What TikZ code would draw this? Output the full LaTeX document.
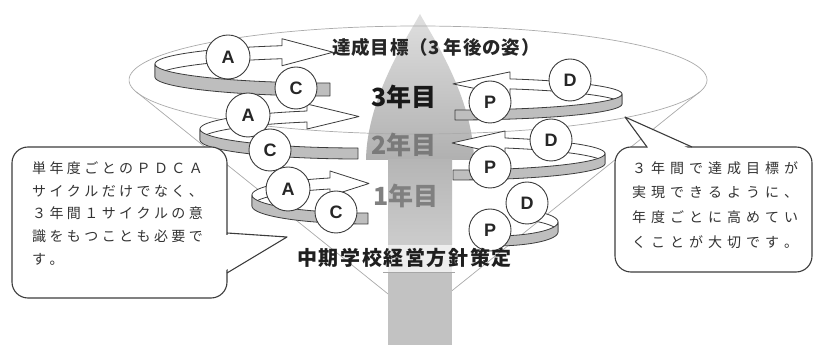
\documentclass[tikz,border=0pt]{standalone}
\usepackage{fontspec}
\newfontfamily\jp{Noto Sans CJK JP}
\newfontfamily\latinf{Liberation Sans}
\definecolor{inkc}{HTML}{3C3C3C}
\definecolor{bandc}{HTML}{BEBEBE}
\definecolor{funnelc}{HTML}{ABABAB}
\definecolor{textc}{HTML}{333333}

% fixed-pitch setting of a string of characters
\newlength{\cpitch}
\def\pitched#1{\pitchedi#1\relax}
\def\pitchedi#1{\ifx#1\relax\else\makebox[\cpitch][l]{#1}\expandafter\pitchedi\fi}

% left half of a yearly loop: cx cy rx ry h xhead xtip
\newcommand{\ribbonL}[7]{%
 \pgfmathsetmacro{\rbth}{360-acos((#6-#1)/#3)}%
 \pgfmathsetmacro{\rbT}{#2+#4*sin(\rbth)}%
 \pgfmathsetmacro{\rbB}{\rbT+#5}%
 \pgfmathsetmacro{\rbM}{(\rbT+\rbB)/2}%
 \filldraw[ribbonback] plot[domain=180:\rbth,samples=40] ({#1+#3*cos(\x)},{#2+#4*sin(\x)}) -- (#6,\rbT-7) -- (#7,\rbM) -- (#6,\rbB+7) -- plot[domain=\rbth:180,samples=40] ({#1+#3*cos(\x)},{#2+#5+#4*sin(\x)}) -- cycle;
 \filldraw[ribbonfront] plot[domain=90:180,samples=40] ({#1+#3*cos(\x)},{#2+#4*sin(\x)}) -- plot[domain=180:90,samples=40] ({#1+#3*cos(\x)},{#2+#5+#4*sin(\x)}) -- cycle;
}
% right half of a yearly loop: cx cy rx ry h xhead xtip
\newcommand{\ribbonR}[7]{%
 \pgfmathsetmacro{\rbth}{-acos((#6-#1)/#3)}%
 \pgfmathsetmacro{\rbT}{#2+#4*sin(\rbth)}%
 \pgfmathsetmacro{\rbB}{\rbT+#5}%
 \pgfmathsetmacro{\rbM}{(\rbT+\rbB)/2}%
 \filldraw[ribbonback] plot[domain=0:\rbth,samples=40] ({#1+#3*cos(\x)},{#2+#4*sin(\x)}) -- (#6,\rbT-7) -- (#7,\rbM) -- (#6,\rbB+7) -- plot[domain=\rbth:0,samples=40] ({#1+#3*cos(\x)},{#2+#5+#4*sin(\x)}) -- cycle;
 \filldraw[ribbonfront] plot[domain=90:0,samples=40] ({#1+#3*cos(\x)},{#2+#4*sin(\x)}) -- plot[domain=0:90,samples=40] ({#1+#3*cos(\x)},{#2+#5+#4*sin(\x)}) -- cycle;
}
% right half without visible head: cx cy rx ry h endangle
\newcommand{\ribbonRplain}[6]{%
 \filldraw[ribbonback] plot[domain=0:#6,samples=30] ({#1+#3*cos(\x)},{#2+#4*sin(\x)}) -- plot[domain=#6:0,samples=30] ({#1+#3*cos(\x)},{#2+#5+#4*sin(\x)}) -- cycle;
 \filldraw[ribbonfront] plot[domain=90:0,samples=40] ({#1+#3*cos(\x)},{#2+#4*sin(\x)}) -- plot[domain=0:90,samples=40] ({#1+#3*cos(\x)},{#2+#5+#4*sin(\x)}) -- cycle;
}

\begin{document}
\begin{tikzpicture}[x=1pt,y=-1pt,
 ribbonback/.style={fill=white,draw=inkc,line width=0.8pt,line join=round},
 ribbonfront/.style={fill=bandc,draw=inkc,line width=0.8pt,line join=round},
 pdca/.style={circle,draw=inkc,fill=white,line width=0.9pt,minimum size=42pt,inner sep=0pt,font=\latinf\bfseries\fontsize{18}{18}\selectfont,text=black!85},
 yearlab/.style={font=\jp\bfseries\fontsize{25}{25}\selectfont,inner sep=0pt},
 callout/.style={draw=inkc,fill=white,line width=1.1pt},
 calloutedge/.style={draw=inkc,line width=1.1pt,line join=round},
 funnelline/.style={draw=funnelc,line width=0.7pt},
 lefttext/.style={anchor=base west,inner sep=0pt,text=textc,font=\jp\fontsize{14}{14}\selectfont\setlength{\cpitch}{17.4pt}},
 righttext/.style={anchor=base west,inner sep=0pt,text=textc,font=\jp\fontsize{14}{14}\selectfont\setlength{\cpitch}{19pt}}
]
\useasboundingbox (0,0) rectangle (835,352);
\fill[white] (0,0) rectangle (835,352);

% funnel sides
\draw[funnelline] (136.5,92) -- (418,318);
\draw[funnelline] (699.5,92) -- (418,318);

% central upward arrow
\shade[top color=gray!25, middle color=gray!76, bottom color=gray!62]
  (420,14) .. controls (430,33) and (473,96) .. (474,160) -- (366,160) .. controls (367,96) and (410,33) .. (420,14) -- cycle;
\shade[top color=gray!58, bottom color=gray!40] (388,159.5) rectangle (452,245);
\fill[gray!14] (388,245) rectangle (452,272);
\fill[gray!48] (388,272) rectangle (452,345);
\draw[gray!70,line width=0.8pt] (383,272) -- (455,272);

% funnel rim
\draw[funnelline] plot[domain=0:360,samples=120,smooth] ({418+289*cos(\x)},{80+54*sin(\x)});

% yearly loops
\ribbonL{330}{64}{175}{19}{13}{282}{333}
\ribbonR{455}{94}{167}{16}{10}{510}{453}
\ribbonL{358}{129}{158}{19}{11}{307}{359}
\ribbonR{453}{153.5}{152}{16.5}{10}{505}{452}
\ribbonL{368}{195}{116}{18}{11}{330}{369}
\ribbonRplain{495}{222}{63}{14}{10}{-60}

% PDCA circles
\node[pdca,minimum size=44pt] (A3) at (228,57) {A};
\node[pdca] (D3) at (570,80) {D};
\node[pdca] (C3) at (296,88) {C};
\node[pdca] (P3) at (490,102) {P};
\node[pdca,minimum size=44pt] (A2) at (248,115) {A};
\node[pdca] (D2) at (551,140) {D};
\node[pdca] (C2) at (270,150) {C};
\node[pdca] (P2) at (490,167) {P};
\node[pdca,minimum size=44pt] (A1) at (288,189) {A};
\node[pdca] (D1) at (527,203) {D};
\node[pdca] (C1) at (336,212) {C};
\node[pdca] (P1) at (490,230) {P};

% labels
\node[font=\jp\bfseries\fontsize{18.5}{18.5}\selectfont\setlength{\cpitch}{19.3pt},text=black!85,anchor=base west,inner sep=0pt] (goal) at (332,55) {\pitched{達成目標（}3\hspace{4pt}\pitched{年後の姿）}};
\node[yearlab,text=black!90] (year3) at (404,97) {3年目};
\node[yearlab,text=black!52] (year2) at (404,145) {2年目};
\node[yearlab,text=black!50] (year1) at (406,196) {1年目};
\node[font=\jp\bfseries\fontsize{20}{20}\selectfont\setlength{\cpitch}{21.6pt},text=black!88,anchor=base west,inner sep=0pt] (policy) at (297,266) {\pitched{中期学校経営方針策定}};

% left callout
\draw[callout,rounded corners=16] (12,147) rectangle (227,298);
\fill[white] (224,235) -- (287,237) -- (224,271) -- cycle;
\draw[calloutedge] (227,233) -- (287,237) -- (227,273);
\node[lefttext] (L1) at (32,173.3) {\pitched{単年度ごとのＰＤＣＡ}};
\node[lefttext] (L2) at (32,196.1) {\pitched{サイクルだけでなく、}};
\node[lefttext] (L3) at (32,218.9) {\pitched{３年間１サイクルの意}};
\node[lefttext] (L4) at (32,241.7) {\pitched{識をもつことも必要で}};
\node[lefttext] (L5) at (32,264.5) {\pitched{す。}};

% right callout
\draw[callout,rounded corners=16] (615,147) rectangle (812,272);
\fill[white] (649,149) -- (625,117) -- (690,149) -- cycle;
\draw[calloutedge] (647,147) -- (625,117) -- (692,147);
\node[righttext] (R1) at (632,173.3) {\pitched{３年間で達成目標が}};
\node[righttext] (R2) at (632,198) {\pitched{実現できるように、}};
\node[righttext] (R3) at (632,222.7) {\pitched{年度ごとに高めてい}};
\node[righttext] (R4) at (632,247.4) {\pitched{くことが大切です。}};
\end{tikzpicture}
\end{document}
